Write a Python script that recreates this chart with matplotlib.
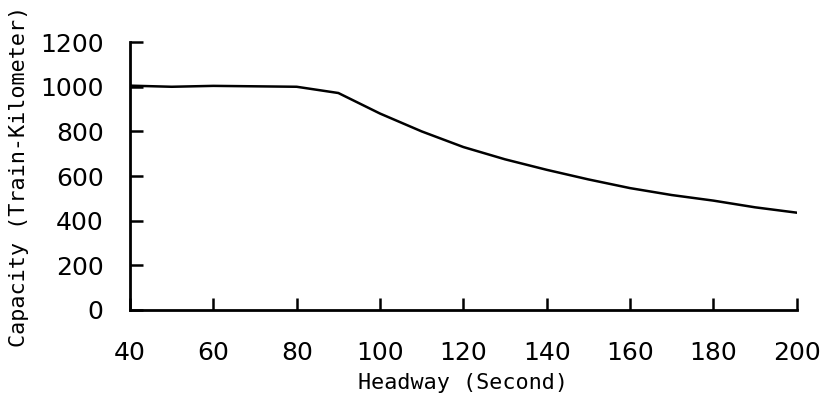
import matplotlib
matplotlib.use('Agg')
import matplotlib.pyplot as plt

headway = [40, 50, 60, 70, 80, 90, 100, 110, 120, 130, 140, 150, 160, 170, 180, 190, 200]
capacity = [1005, 1000, 1004, 1002, 1000, 972, 880, 800, 730, 675, 628, 585, 546, 515, 490, 460, 436]

xticks = [40, 60, 80, 100, 120, 140, 160, 180, 200]
yticks = [0, 200, 400, 600, 800, 1000, 1200]

fig = plt.figure(figsize=(8.23, 4.05), dpi=100)
ax = fig.add_axes([0.158, 0.2346, 0.81, 0.6614])

ax.plot(headway, capacity, color='black', linewidth=1.8)

ax.set_xlim(40, 200)
ax.set_ylim(0, 1200)
ax.set_xticks(xticks)
ax.set_yticks(yticks)
ax.spines['top'].set_visible(False)
ax.spines['right'].set_visible(False)
ax.spines['left'].set_linewidth(2)
ax.spines['bottom'].set_linewidth(2)
ax.tick_params(direction='in', length=9, width=1.8, labelsize=18)
ax.tick_params(axis='x', pad=22)
ax.tick_params(axis='y', pad=19)

ax.set_xlabel('Headway (Second)', fontsize=15.7, family='DejaVu Sans Mono')
ax.set_ylabel('Capacity (Train-Kilometer)', fontsize=15.7, family='DejaVu Sans Mono')
ax.xaxis.set_label_coords(0.5, -0.235)
ax.yaxis.set_label_coords(-0.152, 0.5)

fig.savefig('out.png', dpi=100)
